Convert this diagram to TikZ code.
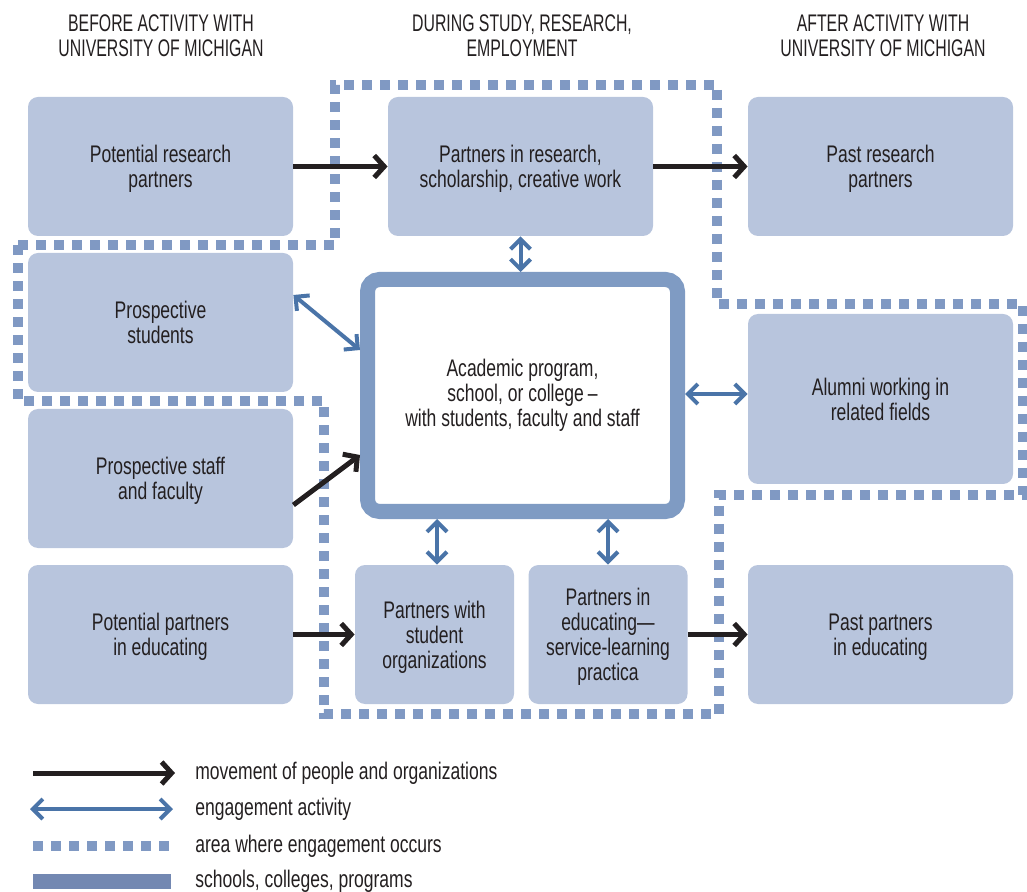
\documentclass[tikz,border=0pt]{standalone}
\usepackage{fontspec}
\setmainfont[FakeStretch=0.73]{Liberation Sans}
\newfontfamily\headfont[FakeStretch=0.66]{Liberation Sans}
\usetikzlibrary{arrows.meta}
\definecolor{boxfill}{HTML}{B8C5DD}
\definecolor{framecol}{HTML}{7F9BC3}
\definecolor{dotcol}{HTML}{8099C3}
\definecolor{linkblue}{HTML}{4A74A8}
\definecolor{txt}{HTML}{231F20}
\definecolor{barcol}{HTML}{7388B2}
\tikzset{
  unit/.style={rectangle, rounded corners=5pt, fill=boxfill, inner sep=0pt, align=center,
    minimum width=132.5pt, minimum height=69.5pt, text depth=0pt},
  smallunit/.style={unit, minimum width=79.5pt},
  progbox/.style={rectangle, rounded corners=6pt, draw=framecol, line width=7.5pt, fill=white,
    inner sep=0pt, align=center, minimum width=155pt, minimum height=116pt},
  move/.style={draw=txt, line width=2.5pt, -{Straight Barb[length=5pt,width=11pt]}},
  engage/.style={draw=linkblue, line width=2pt,
    {Straight Barb[length=5pt,width=10pt]}-{Straight Barb[length=5pt,width=10pt]}},
  area/.style={draw=dotcol, line width=5pt, dash pattern=on 5pt off 4pt},
  heading/.style={align=center, font=\headfont\fontsize{12pt}{12.5pt}\selectfont},
  keylabel/.style={anchor=west, inner sep=0pt},
}
\begin{document}
\begin{tikzpicture}[x=0.5pt, y=-0.5pt, font=\fontsize{12pt}{12.5pt}\selectfont, text=txt]
  \useasboundingbox (0,0) rectangle (1027,892);

  \node[heading] (before) at (161,36) {BEFORE ACTIVITY WITH\\UNIVERSITY OF MICHIGAN};
  \node[heading] (during) at (522,36) {DURING STUDY, RESEARCH,\\EMPLOYMENT};
  \node[heading] (after) at (883,36) {AFTER ACTIVITY WITH\\UNIVERSITY OF MICHIGAN};

  \draw[area] (18,245) -- (335,245) -- (335,85) -- (717,85) -- (717,304) -- (1023,304)
    -- (1023,495) -- (719,495) -- (719,714) -- (324,714) -- (324,401) -- (18,401) -- cycle;

  \node[unit] (potres) at (160.5,166.5) {Potential research\\partners};
  \node[unit] (stud) at (160.5,322.5) {Prospective\\students};
  \node[unit] (staff) at (160.5,478.5) {Prospective staff\\and faculty};
  \node[unit] (poted) at (160.5,634.5) {Potential partners\\in educating};

  \node[unit] (res) at (520.5,166.5) {Partners in research,\\scholarship, creative work};
  \node[progbox] (prog) at (522.5,395.5) {Academic program,\\school, or college\,–\\with students, faculty and staff};
  \node[smallunit] (org) at (434.5,634.5) {Partners with\\student\\organizations};
  \node[smallunit] (edu) at (608,634.5) {Partners in\\educating—\\service-learning\\practica};

  \node[unit] (pastres) at (880.5,166.5) {Past research\\partners};
  \node[unit, minimum height=85pt] (alum) at (880.5,399) {Alumni working in\\related fields};
  \node[unit] (pasted) at (880.5,634.5) {Past partners\\in educating};

  \draw[move] (potres) -- (res);
  \draw[move] (res) -- (pastres);
  \draw[move] (staff.east |- 0,505) -- (prog.west |- 0,455);
  \draw[move] (poted) -- (org);
  \draw[move] (edu) -- (pasted);

  \draw[engage] (res.south) -- (prog.north -| res.south);
  \draw[engage] (stud.east |- 0,295) -- (prog.west |- 0,350);
  \draw[engage] (prog.east |- 0,394) -- (alum.west |- 0,394);
  \draw[engage] (prog.south -| 437,0) -- (org.north -| 437,0);
  \draw[engage] (prog.south -| edu.north) -- (edu.north);

  \coordinate (k1a) at (33,773);
  \coordinate (k1b) at (175,773);
  \coordinate (k2a) at (30,809);
  \coordinate (k2b) at (173,809);
  \coordinate (k3a) at (33,846);
  \coordinate (k3b) at (175,846);
  \draw[move] (k1a) -- (k1b);
  \draw[engage] (k2a) -- (k2b);
  \draw[area] (k3a) -- (k3b);
  \fill[barcol] (33,874) rectangle (171,889);
  \node[keylabel] (key1) at (195,773) {movement of people and organizations};
  \node[keylabel] (key2) at (195,809) {engagement activity};
  \node[keylabel] (key3) at (195,846) {area where engagement occurs};
  \node[keylabel] (key4) at (195,881) {schools, colleges, programs};
\end{tikzpicture}
\end{document}
